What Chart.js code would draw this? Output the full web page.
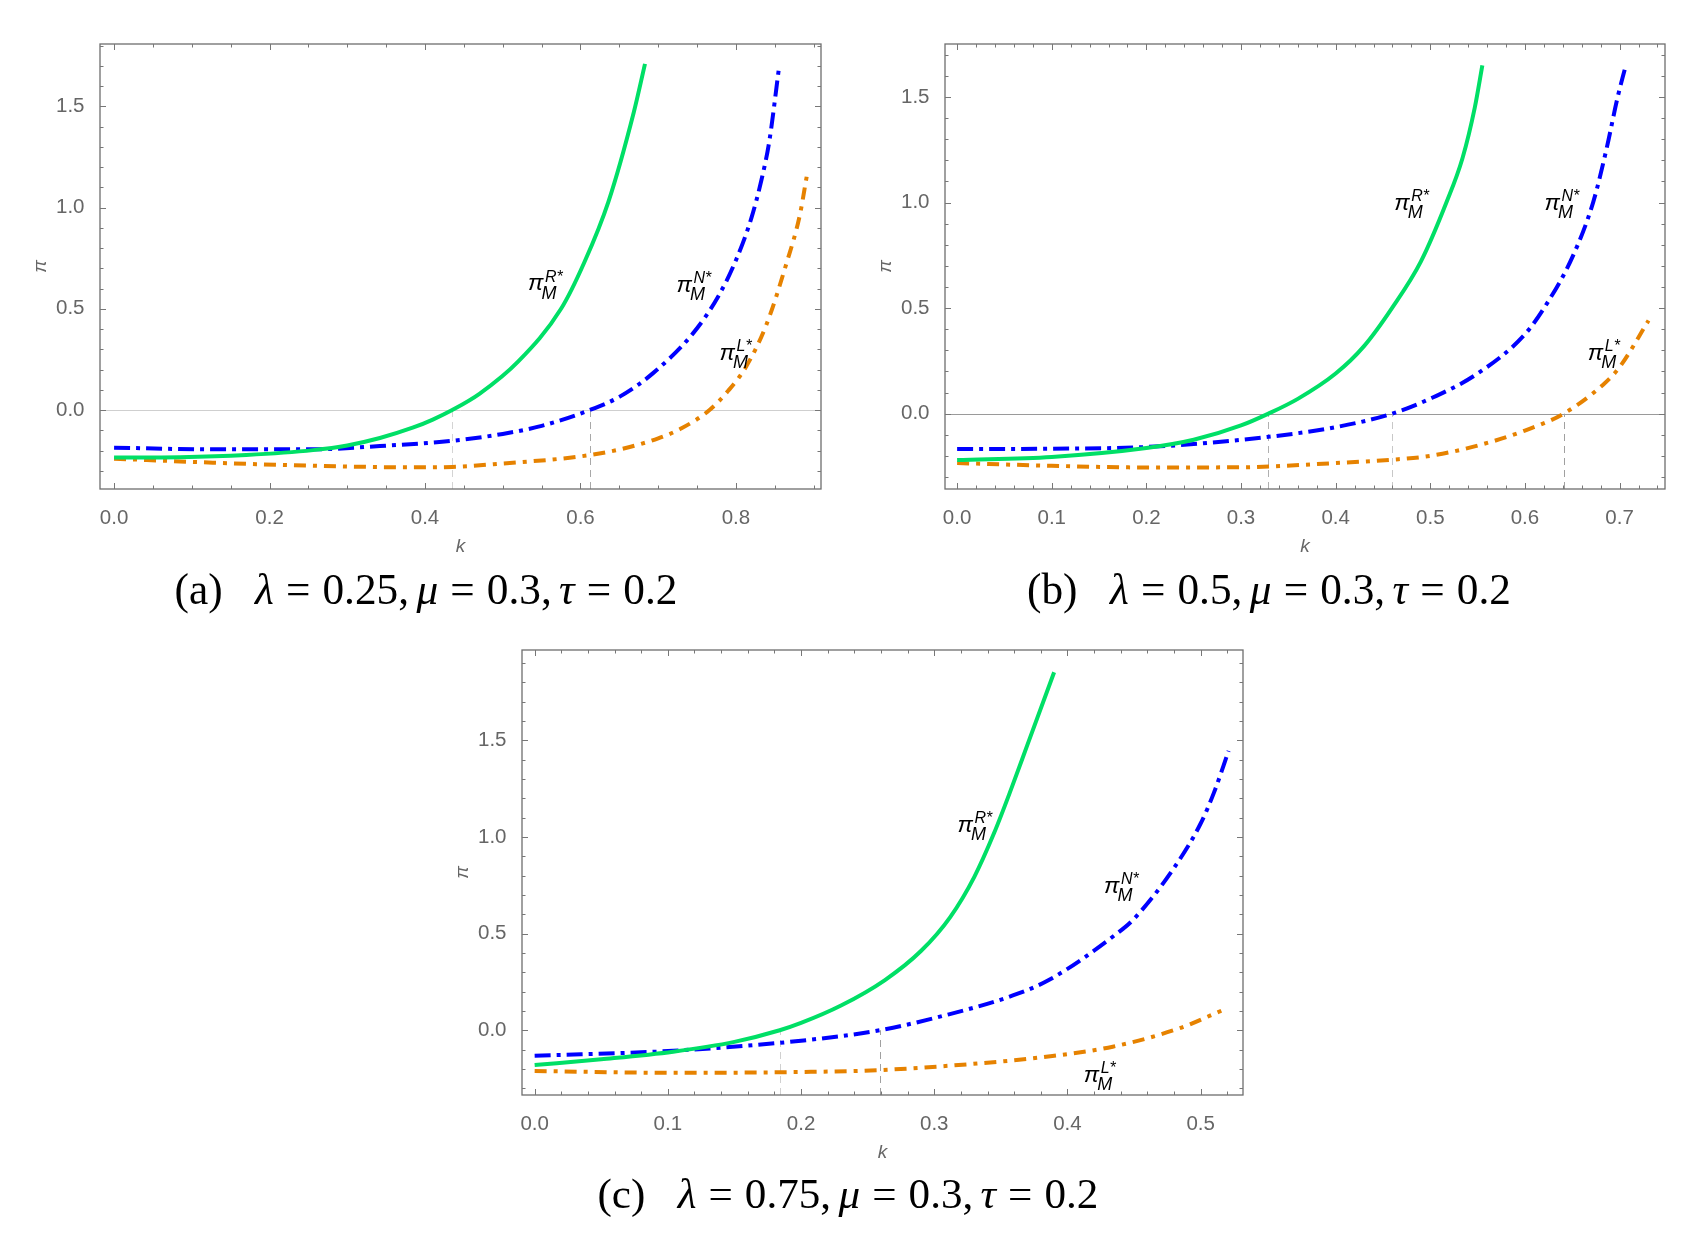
<!DOCTYPE html>
<html>
<head>
<meta charset="utf-8">
<script src="https://cdn.jsdelivr.net/npm/chart.js@4.4.0/dist/chart.umd.min.js"></script>
<style>
html, body { margin: 0; padding: 0; background: #fff; }
#page { position: relative; width: 1701px; height: 1255px; overflow: hidden; }
canvas { position: absolute; }
</style>
</head>
<body>
<div id="page">
  <canvas id="chartA" width="850" height="560" style="left:0px;top:0px;width:850px;height:560px"></canvas>
  <canvas id="chartB" width="851" height="560" style="left:850px;top:0px;width:851px;height:560px"></canvas>
  <canvas id="chartC" width="850" height="546" style="left:430px;top:620px;width:850px;height:546px"></canvas>
  <canvas id="captions" width="1701" height="1255" style="left:0px;top:0px;width:1701px;height:1255px"></canvas>
</div>
<script>
// ---- data (k on x, profit pi on y) ----
// panel (a) lambda = 0.25
const kaR = [0, 0.085, 0.17, 0.256, 0.30, 0.342, 0.385, 0.41, 0.435, 0.47, 0.52, 0.575, 0.605, 0.636, 0.6685, 0.683];
const paR = [-0.235, -0.233, -0.222, -0.198, -0.175, -0.138, -0.086, -0.047, 0, 0.08, 0.24, 0.5, 0.73, 1.03, 1.47, 1.71];
const kaN = [0, 0.127, 0.256, 0.342, 0.435, 0.5, 0.55, 0.612, 0.65, 0.693, 0.745, 0.777, 0.80, 0.82, 0.833, 0.843, 0.855];
const paN = [-0.186, -0.194, -0.194, -0.178, -0.152, -0.118, -0.078, 0, 0.065, 0.181, 0.38, 0.56, 0.74, 0.95, 1.14, 1.33, 1.68];
const kaL = [0, 0.127, 0.256, 0.385, 0.435, 0.5, 0.6, 0.65, 0.7, 0.73, 0.766, 0.79, 0.813, 0.839, 0.865, 0.882, 0.891];
const paL = [-0.24, -0.26, -0.275, -0.283, -0.281, -0.264, -0.229, -0.195, -0.14, -0.09, 0, 0.095, 0.214, 0.42, 0.725, 0.96, 1.153];

// panel (b) lambda = 0.5
const kbR = [0, 0.1, 0.2, 0.25, 0.3, 0.329, 0.36, 0.4, 0.43, 0.4595, 0.49, 0.517, 0.534, 0.547, 0.555];
const pbR = [-0.22, -0.205, -0.163, -0.124, -0.056, 0, 0.07, 0.19, 0.32, 0.5, 0.72, 1.0, 1.21, 1.45, 1.65];
const kbN = [0, 0.1, 0.2, 0.3, 0.4, 0.4595, 0.5, 0.55, 0.6, 0.623, 0.65, 0.672, 0.686, 0.698, 0.706];
const pbN = [-0.168, -0.166, -0.158, -0.124, -0.064, 0, 0.071, 0.19, 0.376, 0.52, 0.74, 1.0, 1.25, 1.5, 1.64];
const kbL = [0, 0.1, 0.2, 0.3, 0.4, 0.46, 0.5, 0.552, 0.6, 0.641, 0.684, 0.7, 0.7306];
const pbL = [-0.234, -0.247, -0.255, -0.254, -0.234, -0.218, -0.2, -0.149, -0.08, 0, 0.143, 0.22, 0.441];

// panel (c) lambda = 0.75
const kcR = [0, 0.05, 0.104, 0.15, 0.184, 0.2, 0.23, 0.263, 0.29, 0.312, 0.33, 0.345, 0.358, 0.37, 0.39];
const pcR = [-0.18, -0.15, -0.111, -0.06, 0, 0.038, 0.128, 0.26, 0.41, 0.586, 0.793, 1.022, 1.253, 1.478, 1.853];
const kcN = [0, 0.104, 0.2, 0.259, 0.309, 0.359, 0.386, 0.437, 0.45, 0.48, 0.5, 0.51, 0.521];
const pcN = [-0.132, -0.106, -0.054, 0, 0.079, 0.18, 0.26, 0.5, 0.577, 0.84, 1.07, 1.23, 1.446];
const kcL = [0, 0.104, 0.2, 0.259, 0.334, 0.384, 0.434, 0.484, 0.5155];
const pcL = [-0.211, -0.22, -0.216, -0.206, -0.171, -0.137, -0.085, 0.01, 0.101];

// tick labels
const xTicksA = [0, 0.2, 0.4, 0.6, 0.8];
const xTicksB = [0, 0.1, 0.2, 0.3, 0.4, 0.5, 0.6, 0.7];
const xTicksC = [0, 0.1, 0.2, 0.3, 0.4, 0.5];
const yTicks = [0, 0.5, 1.0, 1.5];

// zero crossings marked with dashed drop lines
const rootsA = [0.435, 0.612];
const rootsB = [0.329, 0.4595, 0.641];
const rootsC = [0.184, 0.259];

// curve labels (superscript, k, pi)
const labelSup = ['R*', 'N*', 'L*'];
const labelKA = [0.5557, 0.7466, 0.802];
const labelPA = [0.6176, 0.609, 0.272];
const labelKB = [0.481, 0.6397, 0.6854];
const labelPB = [0.99, 0.99, 0.279];
const labelKC = [0.331, 0.441, 0.4257];
const labelPC = [1.052, 0.737, -0.241];

const GREEN = '#00DF66', BLUE = '#0000FF', ORANGE = '#E68200';
const SANS = '"Liberation Sans", Arial, sans-serif';

const pts = (ks, ps) => ks.map((k, i) => ({x: k, y: ps[i]}));

function makeDecor(cfg) {
    return {
        id: 'decor',
        beforeDatasetsDraw(chart) {
            const {ctx, chartArea: a, scales: {x, y}} = chart;
            const y0 = y.getPixelForValue(0);
            ctx.save();
            if (cfg.zeroColor) {
                ctx.strokeStyle = cfg.zeroColor;
                ctx.lineWidth = 1;
                ctx.beginPath();
                ctx.moveTo(a.left, Math.round(y0) + 0.5);
                ctx.lineTo(a.right, Math.round(y0) + 0.5);
                ctx.stroke();
            }
            ctx.setLineDash([7, 5]);
            ctx.lineWidth = 1;
            cfg.roots.forEach((r, i) => {
                const px = Math.round(x.getPixelForValue(r)) + 0.5;
                ctx.strokeStyle = cfg.rootColors[i];
                ctx.beginPath();
                ctx.moveTo(px, a.bottom);
                ctx.lineTo(px, y0);
                ctx.stroke();
            });
            ctx.restore();
        },
        afterDatasetsDraw(chart) {
            const {ctx, chartArea: a, scales: {x, y}} = chart;
            ctx.save();
            // frame
            ctx.strokeStyle = '#6e6e6e';
            ctx.lineWidth = 1.3;
            ctx.strokeRect(a.left, a.top, a.right - a.left, a.bottom - a.top);
            // inward ticks on all four sides
            ctx.strokeStyle = '#777';
            ctx.lineWidth = 1;
            const isMajor = (list, v) => list.some(t => Math.abs(t - v) < 1e-6);
            let start = Math.ceil(x.min / cfg.xMinor - 1e-6);
            for (let i = start; i * cfg.xMinor <= x.max + 1e-9; i++) {
                const v = i * cfg.xMinor;
                const len = isMajor(cfg.xTicks, v) ? 6 : 3.5;
                const px = Math.round(x.getPixelForValue(v)) + 0.5;
                ctx.beginPath();
                ctx.moveTo(px, a.bottom); ctx.lineTo(px, a.bottom - len);
                ctx.moveTo(px, a.top); ctx.lineTo(px, a.top + len);
                ctx.stroke();
            }
            start = Math.ceil(y.min / cfg.yMinor - 1e-6);
            for (let i = start; i * cfg.yMinor <= y.max + 1e-9; i++) {
                const v = i * cfg.yMinor;
                const len = isMajor(yTicks, v) ? 6 : 3.5;
                const py = Math.round(y.getPixelForValue(v)) + 0.5;
                ctx.beginPath();
                ctx.moveTo(a.left, py); ctx.lineTo(a.left + len, py);
                ctx.moveTo(a.right, py); ctx.lineTo(a.right - len, py);
                ctx.stroke();
            }
            // curve labels pi_M^{R*} etc.
            ctx.fillStyle = '#000';
            ctx.textBaseline = 'alphabetic';
            ctx.textAlign = 'left';
            cfg.labelK.forEach((k, i) => {
                const cx = x.getPixelForValue(k);
                const cy = y.getPixelForValue(cfg.labelP[i]);
                ctx.font = 'italic 23px ' + SANS;
                ctx.fillText('\u03c0', cx - 18, cy + 5);
                ctx.font = 'italic 18px ' + SANS;
                ctx.fillText('M', cx - 4.5, cy + 13.5);
                ctx.font = 'italic 16px ' + SANS;
                ctx.fillText(labelSup[i], cx - 1, cy - 3.5);
            });
            ctx.restore();
        }
    };
}

function makeChart(id, cfg) {
    const tickFont = {family: SANS, size: 20.5};
    const titleFont = {family: SANS, size: 19, style: 'italic'};
    return new Chart(document.getElementById(id), {
        type: 'line',
        data: {
            datasets: [
                {data: pts(cfg.kR, cfg.pR), borderColor: GREEN, borderDash: []},
                {data: pts(cfg.kN, cfg.pN), borderColor: BLUE, borderDash: [16, 6, 4, 6]},
                {data: pts(cfg.kL, cfg.pL), borderColor: ORANGE, borderDash: [12, 7, 4, 7]}
            ]
        },
        options: {
            responsive: false,
            animation: false,
            devicePixelRatio: 1,
            layout: {padding: {top: cfg.T, right: cfg.R, left: 0, bottom: 0}},
            plugins: {legend: {display: false}, tooltip: {enabled: false}},
            elements: {
                point: {radius: 0},
                line: {borderWidth: 4, cubicInterpolationMode: 'monotone', borderCapStyle: 'butt', fill: false}
            },
            scales: {
                x: {
                    type: 'linear', min: cfg.xMin, max: cfg.xMax,
                    grid: {display: false}, border: {display: false},
                    ticks: {font: tickFont, color: '#666', padding: 9, maxRotation: 0, autoSkip: false,
                        callback: v => v.toFixed(1)},
                    afterBuildTicks: s => { s.ticks = cfg.xTicks.map(v => ({value: v})); },
                    afterFit: s => { s.height = cfg.B; },
                    title: {display: true, text: 'k', font: titleFont, color: '#666', padding: {top: 0, bottom: 2}}
                },
                y: {
                    type: 'linear', min: cfg.yMin, max: cfg.yMax,
                    grid: {display: false}, border: {display: false},
                    ticks: {font: tickFont, color: '#666', padding: 7.5, autoSkip: false,
                        callback: v => v.toFixed(1)},
                    afterBuildTicks: s => { s.ticks = yTicks.map(v => ({value: v})); },
                    afterFit: s => { s.width = cfg.L; },
                    title: {display: true, text: '\u03c0', font: titleFont, color: '#666', padding: {top: cfg.titlePad, bottom: 0}}
                }
            }
        },
        plugins: [makeDecor(cfg)]
    });
}

makeChart('chartA', {
    kR: kaR, pR: paR, kN: kaN, pN: paN, kL: kaL, pL: paL,
    xMin: -0.0181, xMax: 0.9094, yMin: -0.390, yMax: 1.808,
    xTicks: xTicksA, xMinor: 0.05, yMinor: 0.1,
    L: 100, T: 44, R: 29, B: 71, titlePad: 29.4,
    zeroColor: '#cfcfcf', roots: rootsA, rootColors: ['#d4d4d4', '#a8a8a8'],
    labelK: labelKA, labelP: labelPA
});

makeChart('chartB', {
    kR: kbR, pR: pbR, kN: kbN, pN: pbN, kL: kbL, pL: pbL,
    xMin: -0.0128, xMax: 0.748, yMin: -0.357, yMax: 1.751,
    xTicks: xTicksB, xMinor: 0.02, yMinor: 0.1,
    L: 95, T: 44, R: 36, B: 71, titlePad: 24,
    zeroColor: '#9a9a9a', roots: rootsB, rootColors: ['#b0b0b0', '#c8c8c8', '#a0a0a0'],
    labelK: labelKB, labelP: labelPB
});

makeChart('chartC', {
    kR: kcR, pR: pcR, kN: kcN, pN: pcN, kL: kcL, pL: pcL,
    xMin: -0.0095, xMax: 0.5318, yMin: -0.335, yMax: 1.968,
    xTicks: xTicksC, xMinor: 0.02, yMinor: 0.1,
    L: 92, T: 30, R: 37, B: 71, titlePad: 21.4,
    zeroColor: null, roots: rootsC, rootColors: ['#d0d0d0', '#a0a0a0'],
    labelK: labelKC, labelP: labelPC
});

// ---- sub-figure captions ----
const captionTags = ['a', 'b', 'c'];
const captionLambda = ['0.25', '0.5', '0.75'];
const captionMu = '0.3', captionTau = '0.2';

function captionSegs(tag, lam) {
    return [
        {t: '(' + tag + ')'}, {sp: 0.75},
        {t: '\u03bb', it: true}, {sp: 0.28}, {t: '='}, {sp: 0.28}, {t: lam + ','}, {sp: 0.17},
        {t: '\u03bc', it: true}, {sp: 0.28}, {t: '='}, {sp: 0.28}, {t: captionMu + ','}, {sp: 0.17},
        {t: '\u03c4', it: true}, {sp: 0.28}, {t: '='}, {sp: 0.28}, {t: captionTau}
    ];
}

function drawCaption(ctx, segs, cx, baseline, width) {
    const fam = '"Liberation Serif", "Times New Roman", serif';
    const measure = fs => segs.reduce((w, s) => {
        if (s.sp) return w + s.sp * fs;
        ctx.font = (s.it ? 'italic ' : '') + fs + 'px ' + fam;
        return w + ctx.measureText(s.t).width;
    }, 0);
    const fs = 40 * width / measure(40);
    let xPos = cx - width / 2;
    ctx.fillStyle = '#000';
    ctx.textBaseline = 'alphabetic';
    segs.forEach(s => {
        if (s.sp) { xPos += s.sp * fs; return; }
        ctx.font = (s.it ? 'italic ' : '') + fs + 'px ' + fam;
        ctx.fillText(s.t, xPos, baseline);
        xPos += ctx.measureText(s.t).width;
    });
}

const capCtx = document.getElementById('captions').getContext('2d');
const capCenter = [426, 1269, 848];
const capBase = [604, 604, 1208];
const capWidth = [503, 484, 501];
captionTags.forEach((tag, i) => {
    drawCaption(capCtx, captionSegs(tag, captionLambda[i]), capCenter[i], capBase[i], capWidth[i]);
});
</script>
</body>
</html>
